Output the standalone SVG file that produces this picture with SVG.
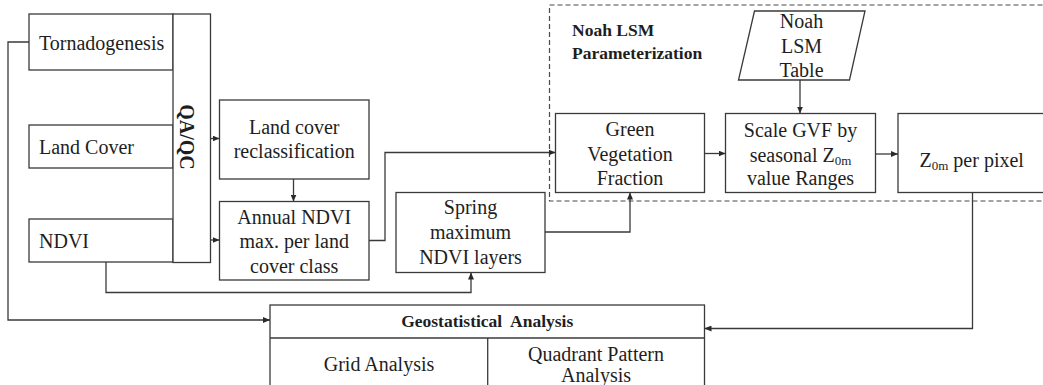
<svg xmlns="http://www.w3.org/2000/svg" width="1043" height="385" viewBox="0 0 1043 385" font-family="'Liberation Serif', 'Times New Roman', 'DejaVu Serif', serif">
  <defs>
    <style>
      .box { fill: #ffffff; stroke: #3a3a3a; stroke-width: 1.3; }
      .dash { fill: none; stroke: #4a4a4a; stroke-width: 1.2; stroke-dasharray: 5 3; }
      .wire { fill: none; stroke: #3a3a3a; stroke-width: 1.3; marker-end: url(#arrow); }
      .wire-plain { fill: none; stroke: #3a3a3a; stroke-width: 1.3; }
      text { font-size: 20px; fill: #1e1e1e; }
      .c { text-anchor: middle; }
      .b { font-weight: bold; font-size: 17.5px; }
      .sub { font-size: 13px; }
    </style>
    <marker id="arrow" viewBox="0 0 7 6" refX="7" refY="3" markerWidth="7" markerHeight="6" markerUnits="userSpaceOnUse" orient="auto">
      <path d="M0,0 L7,3 L0,6 z" fill="#2a2a2a"/>
    </marker>
  </defs>

  <!-- Noah LSM parameterization frame -->
  <g id="noah-lsm-frame">
    <rect class="dash" x="549.5" y="5" width="520" height="196"/>
    <text class="b" x="572" y="36">Noah LSM</text>
    <text class="b" x="572" y="58.5">Parameterization</text>
  </g>

  <!-- Input data -->
  <g id="tornadogenesis">
    <rect class="box" x="29" y="14" width="144" height="56"/>
    <text x="39" y="49.5">Tornadogenesis</text>
  </g>
  <g id="land-cover">
    <rect class="box" x="29" y="125" width="144" height="43"/>
    <text x="39" y="153.5">Land Cover</text>
  </g>
  <g id="ndvi">
    <rect class="box" x="29" y="219" width="144" height="43"/>
    <text x="39" y="248">NDVI</text>
  </g>
  <g id="qa-qc">
    <rect class="box" x="173" y="14" width="37.5" height="248.5"/>
    <text class="c" font-weight="bold" font-size="18" transform="translate(179.5,137) rotate(90)">QA/QC</text>
  </g>

  <!-- Processing steps -->
  <g id="land-cover-reclass">
    <rect class="box" x="219.5" y="100" width="149.5" height="79"/>
    <text class="c" x="294.2" y="133.5">Land cover</text>
    <text class="c" x="294.2" y="157.5">reclassification</text>
  </g>
  <g id="annual-ndvi-max">
    <rect class="box" x="219.5" y="201.5" width="149.5" height="78.5"/>
    <text class="c" x="294.2" y="223.5">Annual NDVI</text>
    <text class="c" x="294.2" y="248">max. per land</text>
    <text class="c" x="294.2" y="272.5">cover class</text>
  </g>
  <g id="spring-ndvi">
    <rect class="box" x="396" y="192.5" width="149" height="80"/>
    <text class="c" x="470.5" y="214">Spring</text>
    <text class="c" x="470.5" y="239">maximum</text>
    <text class="c" x="470.5" y="263.5">NDVI layers</text>
  </g>
  <g id="green-vegetation-fraction">
    <rect class="box" x="555.5" y="113.5" width="149" height="79"/>
    <text class="c" x="630" y="136">Green</text>
    <text class="c" x="630" y="160.5">Vegetation</text>
    <text class="c" x="630" y="185">Fraction</text>
  </g>
  <g id="noah-lsm-table">
    <polygon class="box" points="754.5,11 865,11 849.5,80 738.5,80"/>
    <text class="c" x="801.5" y="28">Noah</text>
    <text class="c" x="801.5" y="52.5">LSM</text>
    <text class="c" x="801.5" y="77">Table</text>
  </g>
  <g id="scale-gvf">
    <rect class="box" x="725.5" y="113.5" width="150" height="79"/>
    <text class="c" x="800.5" y="137">Scale GVF by</text>
    <text class="c" x="800.5" y="161.5">seasonal Z<tspan class="sub" dy="3">0m</tspan></text>
    <text class="c" x="800.5" y="185">value Ranges</text>
  </g>
  <g id="z0m-per-pixel">
    <rect class="box" x="898" y="113.5" width="160" height="79"/>
    <text x="919.5" y="166.5">Z<tspan class="sub" dy="3">0m</tspan><tspan dy="-3"> per pixel</tspan></text>
  </g>

  <!-- Analysis -->
  <g id="geostatistical-analysis">
    <rect class="box" x="270" y="305" width="434.5" height="100"/>
    <line class="wire-plain" x1="270" y1="338" x2="704.5" y2="338"/>
    <line class="wire-plain" x1="487.7" y1="338" x2="487.7" y2="405"/>
    <text class="c b" x="487.2" y="327" xml:space="preserve">Geostatistical  Analysis</text>
    <text class="c" x="379" y="371">Grid Analysis</text>
    <text class="c" x="596" y="360.5">Quadrant Pattern</text>
    <text class="c" x="596" y="382">Analysis</text>
  </g>

  <!-- Connectors -->
  <g id="connectors">
    <line class="wire" x1="210.5" y1="138.5" x2="219.5" y2="138.5"/>
    <line class="wire" x1="210.5" y1="240" x2="219.5" y2="240"/>
    <line class="wire" x1="293.5" y1="179" x2="293.5" y2="201.5"/>
    <polyline class="wire" points="369,240.5 385,240.5 385,152.5 555.5,152.5"/>
    <polyline class="wire" points="106,262 106,292.5 471,292.5 471,272.5"/>
    <polyline class="wire" points="545,232 630,232 630,192.5"/>
    <line class="wire" x1="704.5" y1="153.5" x2="725.5" y2="153.5"/>
    <line class="wire" x1="800" y1="80" x2="800" y2="113.5"/>
    <line class="wire" x1="875.5" y1="154" x2="898" y2="154"/>
    <polyline class="wire" points="29,42 8,42 8,320 270,320"/>
    <polyline class="wire" points="972.5,192.5 972.5,328.5 704.5,328.5"/>
  </g>
</svg>
